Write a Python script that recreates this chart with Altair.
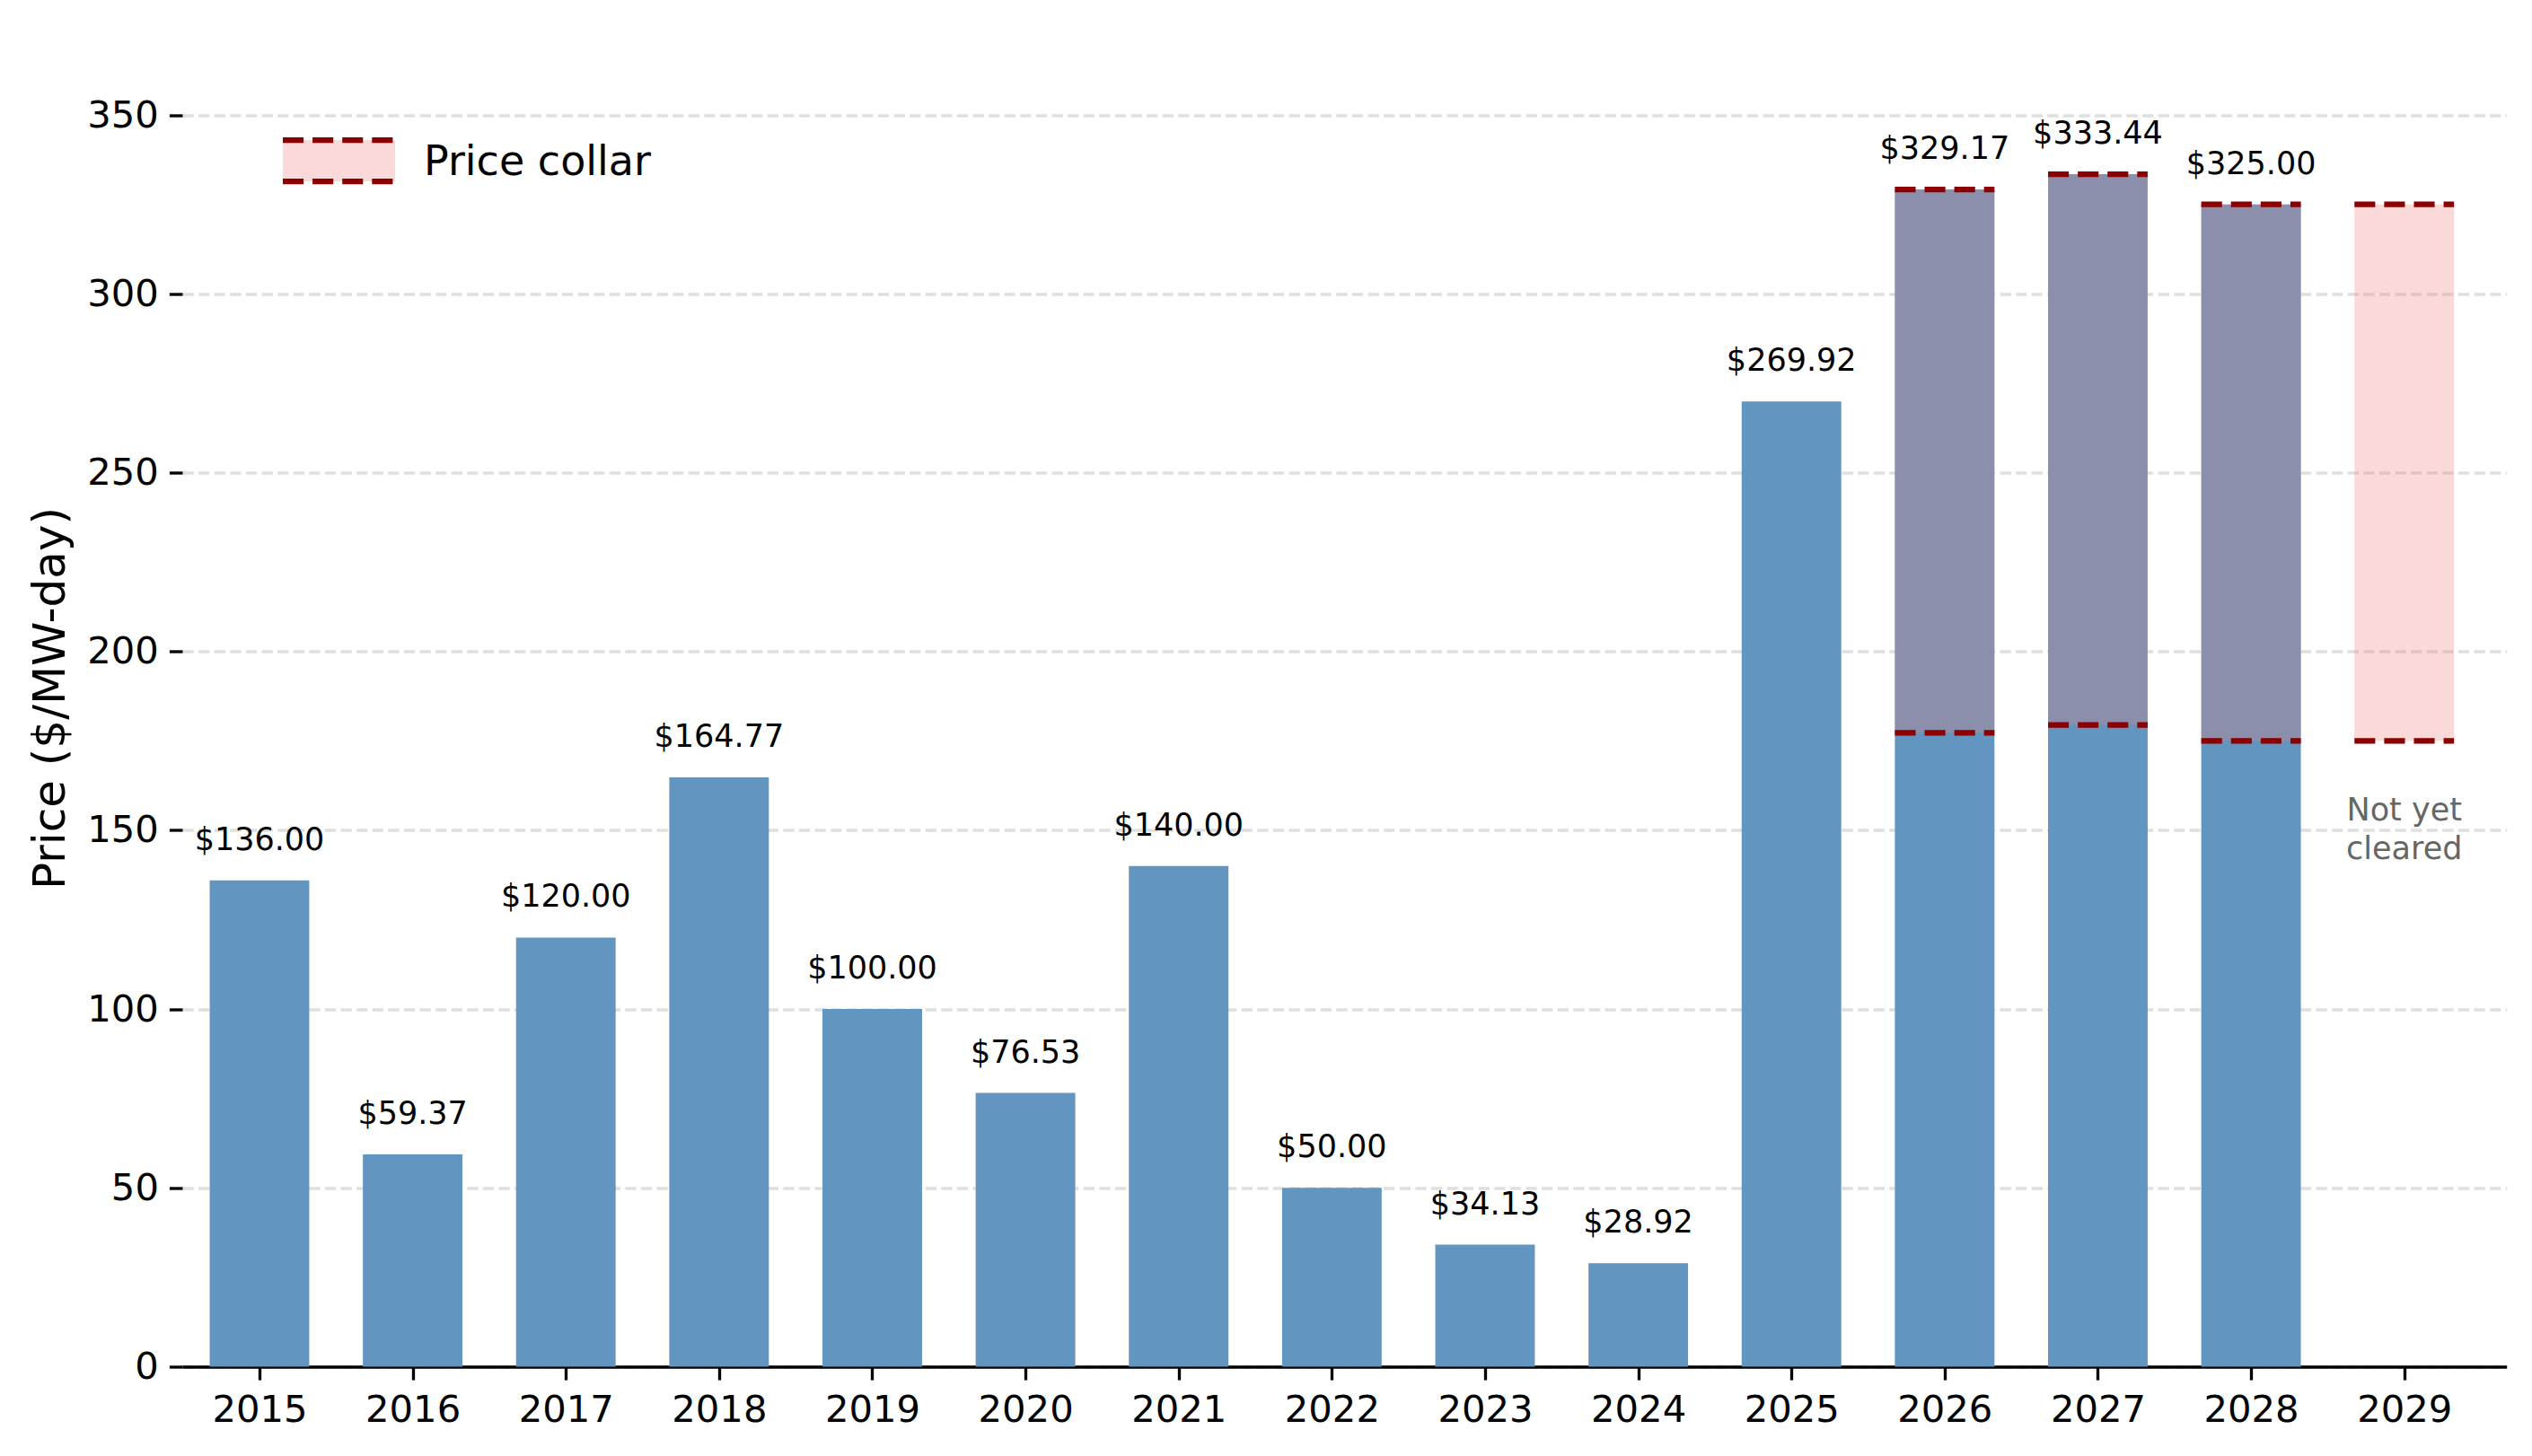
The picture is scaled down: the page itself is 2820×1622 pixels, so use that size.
import altair as alt
import pandas as pd

# ---------------- data ----------------
years = [2015, 2016, 2017, 2018, 2019, 2020, 2021, 2022, 2023, 2024, 2025, 2026, 2027, 2028, 2029]
prices = [136.00, 59.37, 120.00, 164.77, 100.00, 76.53, 140.00, 50.00, 34.13, 28.92,
          269.92, 329.17, 333.44, 325.00, None]
collar_years = [2026, 2027, 2028, 2029]
collar_floor = [177.24, 179.46, 175.00, 175.00]
collar_cap = [329.17, 333.44, 325.00, 325.00]
note_year = [2029]
note_value = [150]
note_text = ["Not yet\ncleared"]
y_ticks = [0, 50, 100, 150, 200, 250, 300, 350]
legend_label = ["Price collar"]

# ---------------- styling ----------------
FONT = "DejaVu Sans"
HALF = 0.325
BLUE = "#6295BF"
DARKRED = "#8B0000"
PINK = "#F08080"
PX = 3.33  # 0.8pt at 300 dpi

bars_df = pd.DataFrame({"year": years, "price": prices}).dropna()
collar_df = pd.DataFrame({"year": collar_years, "floor": collar_floor, "cap": collar_cap})
note_df = pd.DataFrame({"year": note_year, "value": note_value, "text": note_text})
legend_df = pd.DataFrame({"label": legend_label})

x_scale = alt.Scale(domain=[2014.496, 2029.668], nice=False, zero=False)
y_scale = alt.Scale(domain=[0, 374], nice=False, zero=True)

x_axis = alt.Axis(values=years, format="d", title=None, grid=False,
                  labelFont=FONT, labelFontSize=41.7, labelColor="black",
                  labelPadding=13.4, labelFlush=False, labelOverlap=False,
                  tickColor="black", tickWidth=PX, tickSize=14.6,
                  domainColor="black", domainWidth=PX)
y_axis = alt.Axis(values=y_ticks, title="Price ($/MW-day)", grid=True,
                  gridColor="#dfdfdf", gridWidth=PX, gridDash=[12.3, 5.3],
                  domain=False, tickColor="black", tickWidth=PX, tickSize=14.6,
                  labelFont=FONT, labelFontSize=41.7, labelColor="black", labelPadding=12,
                  titleFont=FONT, titleFontSize=50, titleFontWeight="normal",
                  titleColor="black", titlePadding=15)

X0 = alt.X("x0:Q", scale=x_scale, axis=x_axis)
YP = lambda f: alt.Y(f, scale=y_scale, axis=y_axis)

bars = alt.Chart(bars_df).transform_calculate(
    x0=f"datum.year - {HALF}", x1=f"datum.year + {HALF}", zero="0"
).mark_rect(color=BLUE).encode(
    x=X0, x2="x1:Q", y=YP("price:Q"), y2="zero:Q"
)

labels = alt.Chart(bars_df).transform_calculate(
    lab="'$' + format(datum.price, '.2f')"
).mark_text(font=FONT, fontSize=35, color="black", align="center",
            baseline="alphabetic", dy=-34).encode(
    x=alt.X("year:Q", scale=x_scale, axis=x_axis),
    y=YP("price:Q"), text="lab:N"
)

collar_fill = alt.Chart(collar_df).transform_calculate(
    x0=f"datum.year - {HALF}", x1=f"datum.year + {HALF}"
).mark_rect(color=PINK, opacity=0.3).encode(
    x=X0, x2="x1:Q", y=YP("floor:Q"), y2="cap:Q"
)

cap_lines = alt.Chart(collar_df).transform_calculate(
    x0=f"datum.year - {HALF}", x1=f"datum.year + {HALF}"
).mark_rule(color=DARKRED, strokeWidth=6.25, strokeDash=[23.1, 10]).encode(
    x=X0, x2="x1:Q", y=YP("cap:Q")
)
floor_lines = alt.Chart(collar_df).transform_calculate(
    x0=f"datum.year - {HALF}", x1=f"datum.year + {HALF}"
).mark_rule(color=DARKRED, strokeWidth=6.25, strokeDash=[23.1, 10]).encode(
    x=X0, x2="x1:Q", y=YP("floor:Q")
)

note = alt.Chart(note_df).mark_text(
    font=FONT, fontSize=35, color="#666666", align="center",
    baseline="alphabetic", dy=-11, lineBreak="\n", lineHeight=42.6
).encode(
    x=alt.X("year:Q", scale=x_scale, axis=x_axis), y=YP("value:Q"), text="text:N"
)

# legend (manual)
leg_patch = alt.Chart(legend_df).mark_rect(color=PINK, opacity=0.3).encode(
    x=alt.value(112), x2=alt.value(237), y=alt.value(123.5), y2=alt.value(169.5)
)
leg_top = alt.Chart(legend_df).mark_rule(color=DARKRED, strokeWidth=6.25, strokeDash=[23.1, 10]).encode(
    x=alt.value(112), x2=alt.value(237), y=alt.value(123.5)
)
leg_bot = alt.Chart(legend_df).mark_rule(color=DARKRED, strokeWidth=6.25, strokeDash=[23.1, 10]).encode(
    x=alt.value(112), x2=alt.value(237), y=alt.value(169.5)
)
leg_text = alt.Chart(legend_df).mark_text(
    font=FONT, fontSize=46, color="black", align="left", baseline="alphabetic"
).encode(x=alt.value(269), y=alt.value(162.5), text="label:N")

chart = alt.layer(
    bars, collar_fill, cap_lines, floor_lines, labels, note,
    leg_patch, leg_top, leg_bot, leg_text
).properties(
    width=2588.7, height=1490,
    padding={"left": 203, "top": 32.5, "right": 28.3, "bottom": 99.5},
    autosize=alt.AutoSizeParams(type="none"),
    background="white",
).configure_view(stroke=None)

chart.save("out.html", embed_options={"renderer": "svg", "actions": False})
